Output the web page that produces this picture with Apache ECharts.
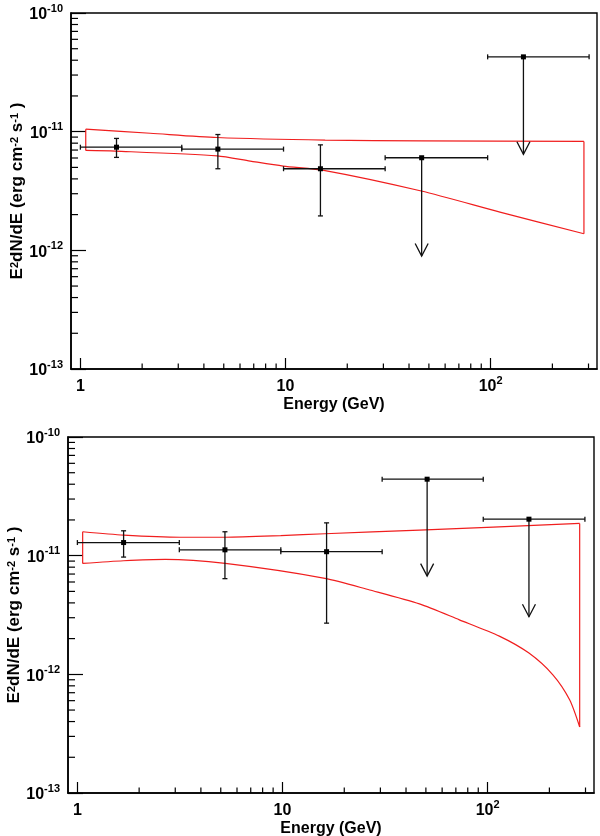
<!DOCTYPE html>
<html><head><meta charset="utf-8">
<script src="https://cdn.jsdelivr.net/npm/echarts@6/dist/echarts.min.js"></script>
<style>html,body{margin:0;padding:0;background:#fff}#c{width:600px;height:836px}</style>
</head><body><div id="c"></div>
<script>
// ---------- data: top panel ----------
const topE   = [1.5, 4.68, 14.8, 46.1, 144.5];
const topF   = [7.4e-12, 7.13e-12, 4.87e-12, 6.03e-12, 4.27e-11];
const topElo = [1.0, 3.12, 9.78, 30.6, 96.7];
const topEhi = [3.12, 9.78, 30.6, 96.7, 302];
const topFlo = [6.07e-12, 4.87e-12, 1.95e-12, 8.95e-13, 6.45e-12];
const topFhi = [8.77e-12, 9.46e-12, 7.74e-12, null, null];
const topUL  = [0, 0, 0, 1, 1];
const topUpE = [1.062, 2.19, 4.64, 15.6, 45.9, 285];
const topUpF = [1.05e-11, 9.70e-12, 8.93e-12, 8.48e-12, 8.37e-12, 8.28e-12];
const topLoE = [1.062, 1.477, 4.64, 6.73, 9.74, 15.6, 45.9, 111, 285];
const topLoF = [6.95e-12, 6.86e-12, 6.25e-12, 5.65e-12, 5.13e-12, 4.70e-12, 3.16e-12, 2.10e-12, 1.38e-12];
// ---------- data: bottom panel ----------
const botE   = [1.68, 5.24, 16.4, 50.7, 159];
const botF   = [1.29e-11, 1.12e-11, 1.08e-11, 4.41e-11, 2.03e-11];
const botElo = [1.0, 3.14, 9.81, 30.6, 95.2];
const botEhi = [3.14, 9.81, 30.6, 95.2, 298];
const botFlo = [9.73e-12, 6.4e-12, 2.7e-12, 6.73e-12, 3.06e-12];
const botFhi = [1.62e-11, 1.59e-11, 1.89e-11, null, null];
const botUL  = [0, 0, 0, 1, 1];
const botUpE = [1.061, 1.68, 3.17, 5.26, 9.8, 16.1, 46.5, 281];
const botUpF = [1.59e-11, 1.49e-11, 1.43e-11, 1.43e-11, 1.475e-11, 1.53e-11, 1.64e-11, 1.87e-11];
const botLoE = [1.061, 1.68, 2.68, 5.26, 16.1, 26.6, 46.5, 72.8, 114, 159, 208, 251, 281];
const botLoF = [8.6e-12, 9.06e-12, 9.31e-12, 8.6e-12, 6.44e-12, 5.14e-12, 3.92e-12, 2.88e-12, 2.10e-12, 1.51e-12, 9.9e-13, 6.1e-13, 3.6e-13];
// ---------- axes ----------
const xRange = [0.9, 330];
const yRange = [1e-13, 1e-10];
const xMinorTicks = [2,3,4,5,6,7,8,9,20,30,40,50,60,70,80,90,200,300];
const yMinorTicks = [2e-13,3e-13,4e-13,5e-13,6e-13,7e-13,8e-13,9e-13,2e-12,3e-12,4e-12,5e-12,6e-12,7e-12,8e-12,9e-12,2e-11,3e-11,4e-11,5e-11,6e-11,7e-11,8e-11,9e-11];
const xTitle = 'Energy (GeV)';
const yTitle = 'E{s|2}dN/dE (erg cm{s|-2} s{s|-1} )';

const FONT = 'Liberation Sans';
const RED = '#f01e1e';

function pairs(E, F) { return E.map((e, i) => [e, F[i]]); }
function points(E, F, Elo, Ehi, Flo, Fhi, UL) {
  return E.map((e, i) => [e, F[i], Elo[i], Ehi[i], Flo[i], Fhi[i] == null ? F[i] : Fhi[i], UL[i]]);
}
function renderPoint(params, api) {
  const E = api.value(0), F = api.value(1), Elo = api.value(2), Ehi = api.value(3);
  const Flo = api.value(4), Fhi = api.value(5), ul = api.value(6);
  const c = api.coord([E, F]);
  const l = api.coord([Elo, F]);
  const r = api.coord([Ehi, F]);
  const lo = api.coord([E, Flo]);
  const hi = api.coord([E, Fhi]);
  const st = { stroke: '#111', lineWidth: 1.3, fill: null };
  const cap = 2.5;
  const kids = [
    { type: 'line', shape: { x1: l[0], y1: c[1], x2: r[0], y2: c[1] }, style: st },
    { type: 'line', shape: { x1: l[0], y1: c[1] - cap, x2: l[0], y2: c[1] + cap }, style: st },
    { type: 'line', shape: { x1: r[0], y1: c[1] - cap, x2: r[0], y2: c[1] + cap }, style: st },
    { type: 'line', shape: { x1: c[0], y1: (ul ? c[1] : hi[1]), x2: c[0], y2: lo[1] }, style: st }
  ];
  if (ul) {
    kids.push({ type: 'polyline', shape: { points: [[c[0] - 6.5, lo[1] - 12.5], [c[0], lo[1]], [c[0] + 6.5, lo[1] - 12.5]] }, style: st });
  } else {
    kids.push({ type: 'line', shape: { x1: c[0] - cap, y1: hi[1], x2: c[0] + cap, y2: hi[1] }, style: st });
    kids.push({ type: 'line', shape: { x1: c[0] - cap, y1: lo[1], x2: c[0] + cap, y2: lo[1] }, style: st });
  }
  kids.push({ type: 'rect', shape: { x: c[0] - 2.5, y: c[1] - 2.5, width: 5, height: 5 }, style: { fill: '#000' } });
  return { type: 'group', children: kids };
}
function renderXMinor(params, api) {
  const p = api.coord([api.value(0), api.value(1)]);
  return { type: 'line', shape: { x1: p[0], y1: p[1], x2: p[0], y2: p[1] - 5.5 }, style: { stroke: '#000', lineWidth: 1.2 } };
}
function renderYMinor(params, api) {
  const p = api.coord([api.value(0), api.value(1)]);
  return { type: 'line', shape: { x1: p[0], y1: p[1], x2: p[0] + 7, y2: p[1] }, style: { stroke: '#000', lineWidth: 1.2 } };
}
function isPow10(v) {
  const e = Math.log10(v);
  return Math.abs(e - Math.round(e)) < 1e-6;
}
const rich = {
  b: { fontFamily: FONT, fontWeight: 'bold', fontSize: 16, color: '#000', lineHeight: 20, verticalAlign: 'bottom' },
  s: { fontFamily: FONT, fontWeight: 'bold', fontSize: 11, color: '#000', lineHeight: 12, verticalAlign: 'top' }
};
function xLabel(v) {
  if (!isPow10(v)) return '';
  const e = Math.round(Math.log10(v));
  if (e === 0) return '{b|1}';
  if (e === 1) return '{b|10}';
  return '{b|10}{s|' + e + '}';
}
function yLabel(v) {
  if (!isPow10(v)) return '';
  return '{b|10}{s|' + Math.round(Math.log10(v)) + '}';
}
function xAxis(gi) {
  return {
    type: 'log', logBase: 10, gridIndex: gi, min: xRange[0], max: xRange[1], splitNumber: 3,
    axisLine: { lineStyle: { color: '#000', width: 1.6 } },
    axisTick: { inside: true, length: 11, lineStyle: { color: '#000', width: 1.2 } },
    minorTick: { show: false }, splitLine: { show: false },
    axisLabel: { formatter: xLabel, rich: rich, margin: 6, showMinLabel: false, showMaxLabel: false },
    name: xTitle, nameLocation: 'middle', nameGap: 28, nameMoveOverlap: false,
    nameTextStyle: { fontFamily: FONT, fontWeight: 'bold', fontSize: 16, color: '#000' }
  };
}
function yAxis(gi) {
  return {
    type: 'log', logBase: 10, gridIndex: gi, min: yRange[0], max: yRange[1], splitNumber: 3,
    axisLine: { lineStyle: { color: '#000', width: 1.6 } },
    axisTick: { inside: true, length: 15, lineStyle: { color: '#000', width: 1.2 } },
    minorTick: { show: false }, splitLine: { show: false },
    axisLabel: { formatter: yLabel, rich: rich, margin: 8, showMinLabel: true, showMaxLabel: true },
    name: yTitle, nameLocation: 'middle', nameGap: 45, nameRotate: 90, nameMoveOverlap: false,
    nameTextStyle: { fontFamily: FONT, fontWeight: 'bold', fontSize: 17, color: '#000',
      rich: { s: { fontFamily: FONT, fontWeight: 'bold', fontSize: 11, color: '#000', verticalAlign: 'top', lineHeight: 12 } } }
  };
}
function redLine(gi, data, smooth) {
  return { type: 'line', xAxisIndex: gi, yAxisIndex: gi, data: data, showSymbol: false, symbol: 'none',
    smooth: smooth, lineStyle: { color: RED, width: 1.2 }, silent: true, z: 2 };
}
function panelSeries(gi, pts, upE, upF, loE, loF) {
  const n = upE.length - 1, m = loE.length - 1;
  return [
    redLine(gi, pairs(upE, upF), 0.25),
    redLine(gi, pairs(loE, loF), 0.25),
    redLine(gi, [[loE[0], loF[0]], [upE[0], upF[0]]], false),
    redLine(gi, [[loE[m], loF[m]], [upE[n], upF[n]]], false),
    { type: 'custom', xAxisIndex: gi, yAxisIndex: gi, data: xMinorTicks.map(v => [v, yRange[0]]), renderItem: renderXMinor, clip: false, silent: true, z: 1 },
    { type: 'custom', xAxisIndex: gi, yAxisIndex: gi, data: yMinorTicks.map(v => [xRange[0], v]), renderItem: renderYMinor, clip: false, silent: true, z: 1 },
    { type: 'custom', xAxisIndex: gi, yAxisIndex: gi, data: pts, renderItem: renderPoint, clip: false, silent: true, z: 3,
      encode: { x: 0, y: 1 } }
  ];
}
const chart = echarts.init(document.getElementById('c'), null, { renderer: 'canvas' });
chart.setOption({
  animation: false,
  backgroundColor: '#fff',
  grid: [
    { left: 71, top: 13, width: 526, height: 356, show: true, borderColor: '#000', borderWidth: 1.4, backgroundColor: 'transparent', outerBoundsMode: 'none' },
    { left: 68, top: 437, width: 526, height: 356, show: true, borderColor: '#000', borderWidth: 1.4, backgroundColor: 'transparent', outerBoundsMode: 'none' }
  ],
  xAxis: [xAxis(0), xAxis(1)],
  yAxis: [yAxis(0), yAxis(1)],
  series: [].concat(
    panelSeries(0, points(topE, topF, topElo, topEhi, topFlo, topFhi, topUL), topUpE, topUpF, topLoE, topLoF),
    panelSeries(1, points(botE, botF, botElo, botEhi, botFlo, botFhi, botUL), botUpE, botUpF, botLoE, botLoF)
  )
});
</script></body></html>
